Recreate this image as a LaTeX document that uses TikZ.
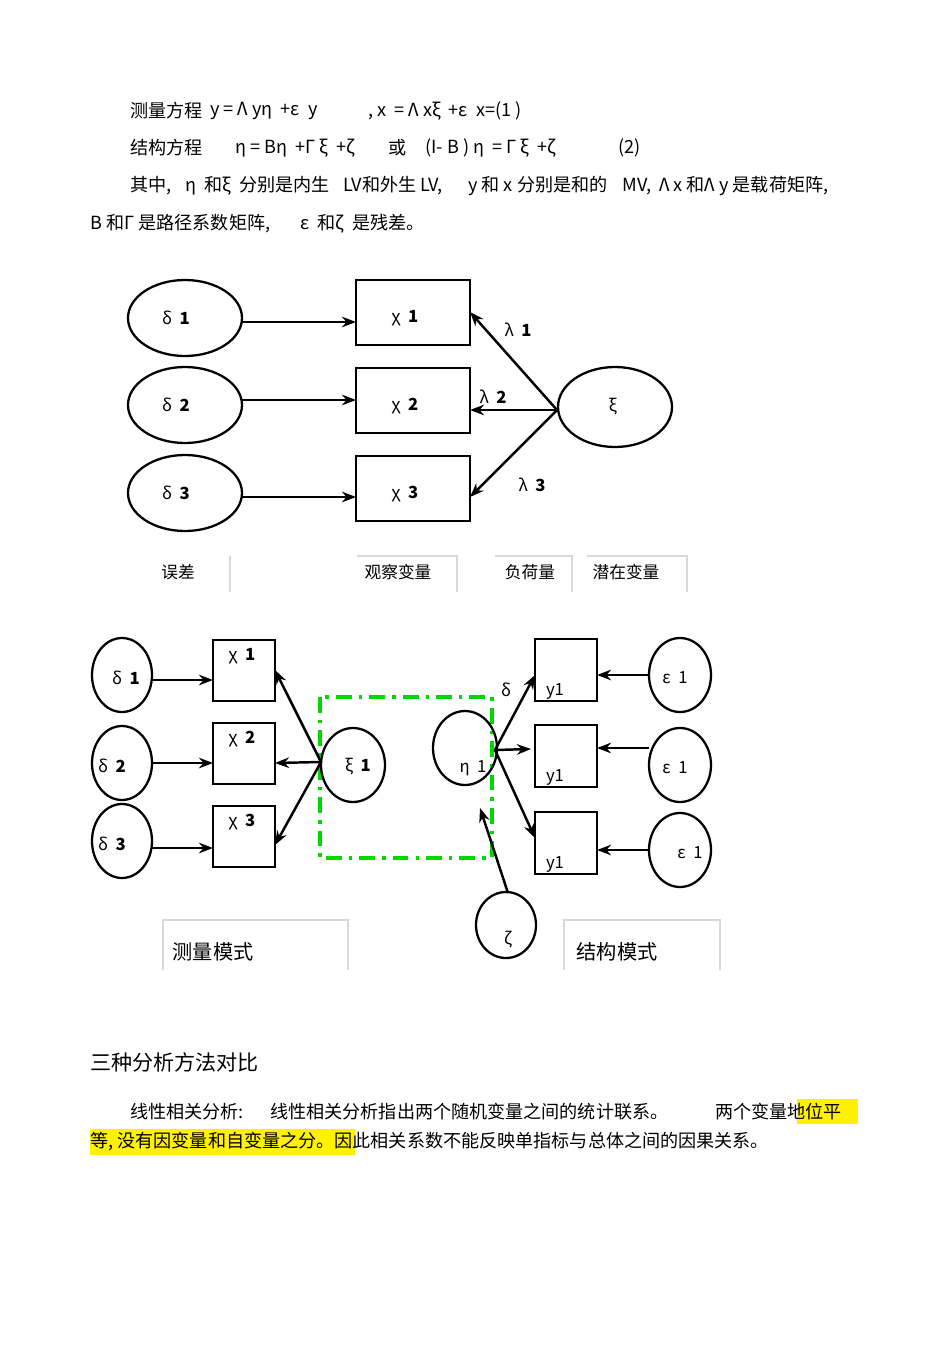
\documentclass[tikz,border=0pt]{standalone}
\usepackage{fontspec}
\setmainfont{Noto Sans CJK SC}
\usetikzlibrary{arrows.meta}
\begin{document}
\begin{tikzpicture}[x=0.02cm,y=-0.02cm,
  every node/.style={font=\fontsize{9.5}{11}\selectfont,inner sep=0pt},
  bx/.style={draw,line width=1.3pt},
  arr/.style={line width=1.4pt,-{Stealth[length=8pt,width=6pt]}},
  grid/.style={draw=black!15,line width=0.6pt},
  txt/.style={anchor=west,font=\fontsize{10.3}{12}\selectfont}]
\useasboundingbox (0,0) rectangle (950,1345);
% top text
\node[txt] (t1a) at (130,111) {测量方程};
\node[txt] (t1b) at (210,111) {y = Λ yη \ +ε \ y};
\node[txt] (t1c) at (368,111) {, x \ = Λ xξ \ +ε \ x=(1 )};
\node[txt] (t2a) at (130,148) {结构方程};
\node[txt] (t2b) at (235,148) {η = Bη \ +Γ ξ \ +ζ};
\node[txt] (t2c) at (388,148) {或};
\node[txt] (t2d) at (425,148) {(I- B ) η \ = Γ ξ \ +ζ};
\node[txt] (t2e) at (618,148) {(2)};
\node[txt] (t3a) at (130,186) {其中,};
\node[txt] (t3b) at (185,186) {η \ 和ξ \ 分别是内生};
\node[txt] (t3c) at (343,186) {LV和外生 LV,};
\node[txt] (t3d) at (468,186) {y 和 x 分别是和的};
\node[txt] (t3e) at (622,186) {MV, \ Λ x 和Λ y 是载荷矩阵,};
\node[txt] (t4a) at (90,224) {B 和Γ 是路径系数矩阵,};
\node[txt] (t4b) at (300,224) {ε \ 和ζ \ 是残差。};
% diagram 1
\foreach \i/\y/\ay in {1/318/322,2/405/400,3/493/497}{
  \draw[line width=1.3pt] (185,\y) ellipse (57 and 38);
  \node (d\i) at (176,\y) {δ \ \textbf{\i}};
  \coordinate (dr\i) at (242,\ay);
  \coordinate (xl\i) at (356,\ay);
}
\foreach \i/\y in {1/312,2/400,3/488}{
  \draw[bx] (356,\y-32) rectangle (470,\y+33);
  \node (x\i) at (405,\y+6) {χ \ \textbf{\i}};
}
\draw[line width=1.3pt] (615,407) ellipse (57 and 40);
\node (xi) at (613,407) {ξ};
\coordinate (xil) at (557,410);
\foreach \i in {1,2,3}{\draw[arr] (dr\i) -- (xl\i);}
\draw[arr] (xil) -- (470,312);
\draw[arr] (xil) -- (470,410);
\draw[arr] (xil) -- (470,497);
\node (l1) at (518,330) {λ \ \textbf{1}};
\node (l2) at (493,397) {λ \ \textbf{2}};
\node (l3) at (532,485) {λ \ \textbf{3}};
\node (b1) at (178,572) {误差};
\node (b2) at (398,572) {观察变量};
\node (b3) at (530,572) {负荷量};
\node (b4) at (626,572) {潜在变量};
\draw[grid] (230,556) -- (230,592);
\draw[grid] (357,556) -- (457,556) -- (457,592);
\draw[grid] (495,556) -- (572,556) -- (572,592);
\draw[grid] (587,556) -- (687,556) -- (687,592);
% diagram 2
\foreach \i/\y/\lx in {1/675/126,2/763/112,3/841/112}{
  \draw[line width=1.3pt] (122,\y) ellipse (30 and 37);
  \node (e\i) at (\lx,\y+3) {δ \ \textbf{\i}};
}
\foreach \i/\y in {1/670,2/753,3/836}{
  \draw[bx] (213,\y-30) rectangle (275,\y+31);
  \node (c\i) at (242,\y-14) {χ \ \textbf{\i}};
}
\draw[arr] (152,680) -- (213,680);
\draw[arr] (152,763) -- (213,763);
\draw[arr] (152,848) -- (213,848);
\draw[green!85!black,line width=1.8pt,dash pattern=on 9pt off 4pt on 2pt off 4pt] (320,697) rectangle (492,858);
\draw[line width=1.3pt] (353,765) ellipse (32 and 37);
\node (k1) at (358,767) {ξ \ \textbf{1}};
\draw[line width=1.3pt] (465,748) ellipse (32 and 37);
\node (h1) at (473,768) {η \ 1};
\coordinate (kl) at (321,762);
\draw[arr] (kl) -- (275,670);
\draw[arr] (kl) -- (275,763);
\draw[arr] (kl) -- (275,845);
\foreach \i/\y in {1/670,2/756,3/843}{
  \draw[bx] (535,\y-31) rectangle (597,\y+31);
  \node (y\i) at (555,\y+21) {y1};
}
\coordinate (hr) at (495,750);
\draw[arr] (hr) -- (535,675);
\draw[arr] (hr) -- (531,749);
\draw[arr] (hr) -- (535,838);
\node (dd) at (506,690) {δ};
\foreach \i/\y/\lx in {1/675/675,2/765/675,3/850/690}{
  \draw[line width=1.3pt] (680,\y) ellipse (31 and 37);
  \node (p\i) at (\lx,\y+3) {ε \ 1};
}
\draw[arr] (649,675) -- (597,675);
\draw[arr] (649,748) -- (597,748);
\draw[arr] (649,850) -- (597,850);
\draw[line width=1.3pt] (506,925) ellipse (30 and 33);
\node (z) at (508,940) {ζ};
\draw[arr] (508,893) -- (480,808);
\node[font=\fontsize{11.5}{13}\selectfont] (m1) at (213,952) {测量模式};
\node[font=\fontsize{11.5}{13}\selectfont] (m2) at (617,952) {结构模式};
\draw[grid] (163,970) -- (163,920) -- (348,920) -- (348,970);
\draw[grid] (564,970) -- (564,920) -- (720,920) -- (720,970);
% bottom text
\node[txt,font=\fontsize{12}{14}\selectfont] (hd) at (90,1062) {三种分析方法对比};
\fill[yellow] (797,1099) rectangle (858,1124);
\fill[yellow] (90,1129) rectangle (355,1155);
\node[txt] (p1a) at (130,1112) {线性相关分析:};
\node[txt] (p1b) at (270,1112) {线性相关分析指出两个随机变量之间的统计联系。};
\node[txt] (p1c) at (715,1112) {两个变量地位平};
\node[txt] (p2) at (90,1142) {等, 没有因变量和自变量之分。因此相关系数不能反映单指标与总体之间的因果关系。};
\end{tikzpicture}
\end{document}
